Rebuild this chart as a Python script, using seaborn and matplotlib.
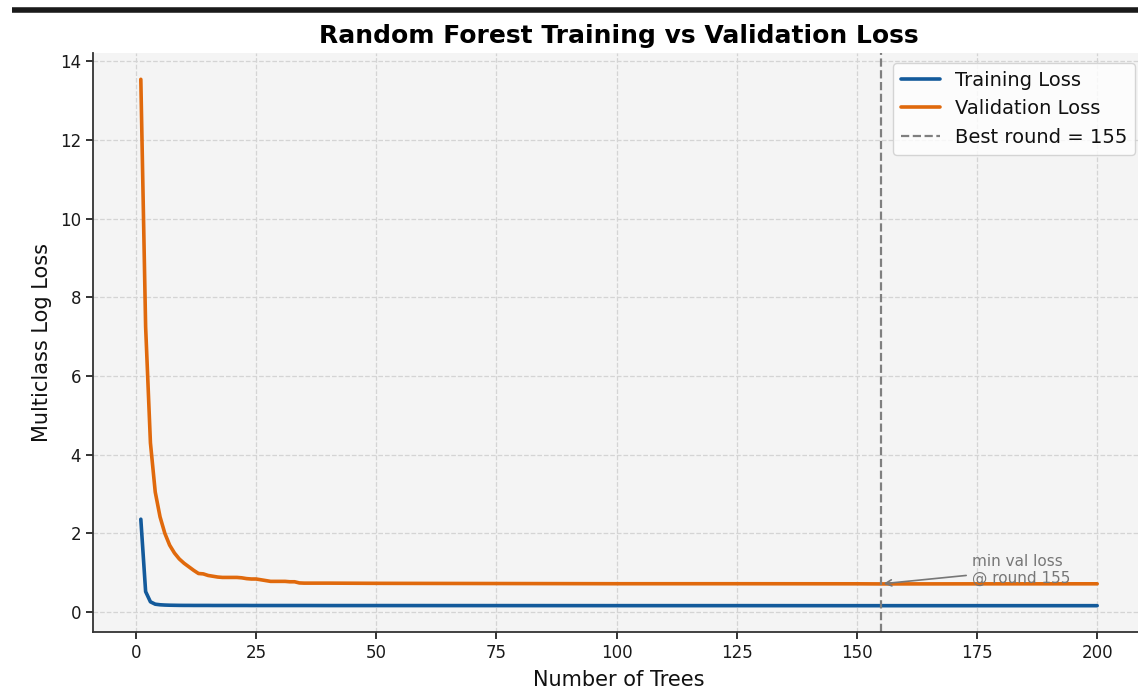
import matplotlib
matplotlib.use("Agg")
import matplotlib.pyplot as plt
from matplotlib.lines import Line2D
import pandas as pd
import seaborn as sns

# number of trees at which the curves were read
trees = list(range(1, 36)) + [40, 50, 75, 100, 125, 150, 155, 175, 200]

train_loss = [2.36, 0.52, 0.26, 0.20, 0.185, 0.178, 0.174, 0.172, 0.170, 0.169,
              0.169, 0.168, 0.168, 0.168, 0.168, 0.167, 0.167, 0.167, 0.167, 0.167,
              0.167, 0.167, 0.167, 0.166, 0.166, 0.166, 0.166, 0.166, 0.166, 0.166,
              0.166, 0.166, 0.166, 0.166, 0.166,
              0.165, 0.165, 0.164, 0.163, 0.163, 0.162, 0.162, 0.162, 0.162]

val_loss = [13.54, 7.25, 4.30, 3.05, 2.42, 2.00, 1.70, 1.50, 1.35, 1.24,
            1.15, 1.06, 0.98, 0.97, 0.93, 0.91, 0.89, 0.88, 0.88, 0.88,
            0.88, 0.87, 0.85, 0.84, 0.84, 0.82, 0.80, 0.78, 0.78, 0.78,
            0.78, 0.77, 0.77, 0.74, 0.735,
            0.735, 0.73, 0.725, 0.72, 0.72, 0.718, 0.715, 0.717, 0.718]

best_round = 155
best_val = 0.715

TRAIN_COLOR = "#135a9b"
VAL_COLOR = "#e0690c"

sns.set_theme(style="whitegrid", rc={
    "axes.facecolor": "#f4f4f4",
    "axes.edgecolor": "#333333",
    "axes.linewidth": 1.3,
    "grid.color": "#d4d4d4",
    "grid.linestyle": "--",
    "grid.linewidth": 0.9,
    "xtick.bottom": True,
    "ytick.left": True,
    "xtick.major.size": 5,
    "ytick.major.size": 5,
    "xtick.color": "#1a1a1a",
    "ytick.color": "#1a1a1a",
    "axes.labelcolor": "#111111",
    "text.color": "#111111",
})
plt.rcParams["font.family"] = ["DejaVu Sans"]

df = pd.DataFrame({"trees": trees, "train": train_loss, "val": val_loss})

fig = plt.figure(figsize=(11.38, 6.99), dpi=100)
ax = fig.add_axes([93 / 1138, 1 - 632 / 699, (1145 - 93) / 1138, (632 - 53) / 699])

sns.lineplot(data=df, x="trees", y="train", ax=ax, color=TRAIN_COLOR, lw=2.6, label="Training Loss")
sns.lineplot(data=df, x="trees", y="val", ax=ax, color=VAL_COLOR, lw=2.6, label="Validation Loss")
ax.axvline(best_round, color="#7f7f7f", ls="--", lw=1.6, label=f"Best round = {best_round}")

ax.annotate("min val loss\n@ round 155", xy=(best_round, best_val), xytext=(174, 1.07),
            ha="left", va="center", fontsize=11, color="#777777",
            arrowprops=dict(arrowstyle="->", color="#777777", lw=1.2))

ax.set_title("Random Forest Training vs Validation Loss", fontsize=18, fontweight="bold",
             color="black", pad=7)
ax.set_xlabel("Number of Trees", fontsize=15, labelpad=6)
ax.set_ylabel("Multiclass Log Loss", fontsize=15, labelpad=6)
ax.tick_params(labelsize=12)
ax.set_xticks([0, 25, 50, 75, 100, 125, 150, 175, 200])
ax.set_yticks([0, 2, 4, 6, 8, 10, 12, 14])

leg = ax.legend(loc="upper right", fontsize=14, frameon=True, fancybox=True)
leg.get_frame().set_facecolor("white")
leg.get_frame().set_edgecolor("#cccccc")

sns.despine(ax=ax)

# dark bar across the top of the screenshot
fig.add_artist(Line2D([12 / 1138, 1], [1 - 10 / 699] * 2, transform=fig.transFigure,
                      color="#1a1a1a", lw=4, solid_capstyle="butt"))

fig.savefig("out.png", dpi=100)
